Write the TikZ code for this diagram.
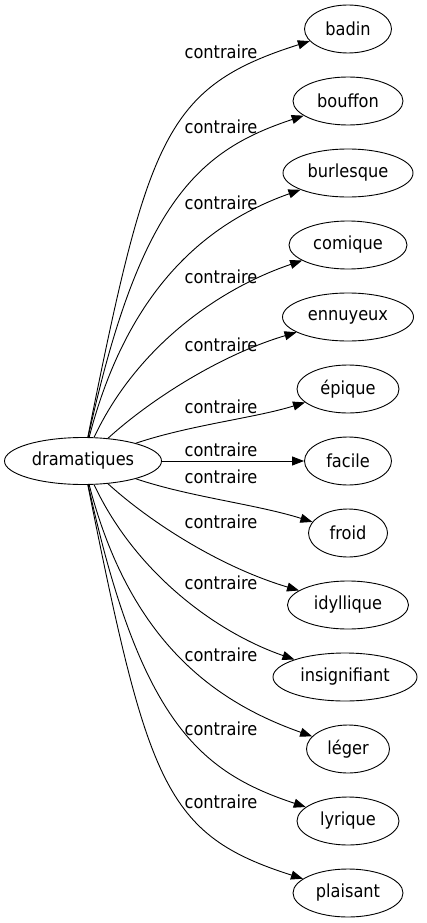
\documentclass[tikz,border=0pt]{standalone}
\usepackage{fontspec}
\setmainfont{DejaVu Sans Condensed}
\usetikzlibrary{shapes.geometric,arrows.meta}
\tikzset{
  mot/.style={draw, ellipse, line width=0.9pt, minimum height=48pt, inner sep=0pt,
    font=\fontsize{18}{21}\selectfont},
  rel/.style={anchor=base, inner sep=0pt, font=\fontsize{18}{21}\selectfont},
}
\begin{document}
\begin{tikzpicture}[x=1pt, y=-1pt, >={Triangle[length=12pt,width=9pt]}, line width=0.9pt]
    \useasboundingbox (0,0) rectangle (427,923);
    % Mot source
    \node[mot, minimum width=157pt, minimum height=47pt] (dram) at (83,461) {dramatiques};
    % Mots contraires
    \node[mot, minimum width=87pt]  (badin)   at (348,29)  {badin};
    \node[mot, minimum width=110pt] (bouffon) at (348,101) {bouffon};
    \node[mot, minimum width=130pt] (burl)    at (348,173) {burlesque};
    \node[mot, minimum width=118pt] (comi)    at (348,245) {comique};
    \node[mot, minimum width=131pt] (ennu)    at (348,317) {ennuyeux};
    \node[mot, minimum width=102pt] (epiq)    at (348,389) {épique};
    \node[mot, minimum width=87pt]  (faci)    at (348,461) {facile};
    \node[mot, minimum width=79pt]  (froi)    at (348,533) {froid};
    \node[mot, minimum width=121pt] (idyl)    at (348,605) {idyllique};
    \node[mot, minimum width=144pt] (insi)    at (345,677) {insignifiant};
    \node[mot, minimum width=83pt]  (lege)    at (348,749) {léger};
    \node[mot, minimum width=102pt] (lyri)    at (348,821) {lyrique};
    \node[mot, minimum width=110pt] (plai)    at (348,893) {plaisant};
    % Etiquettes
    \node[rel] (r1)  at (221,59)  {contraire};
    \node[rel] (r2)  at (221,134) {contraire};
    \node[rel] (r3)  at (221,209) {contraire};
    \node[rel] (r4)  at (221,283) {contraire};
    \node[rel] (r5)  at (221,351) {contraire};
    \node[rel] (r6)  at (221,413) {contraire};
    \node[rel] (r7)  at (221,456) {contraire};
    \node[rel] (r8)  at (221,483) {contraire};
    \node[rel] (r9)  at (221,528) {contraire};
    \node[rel] (r10) at (221,589) {contraire};
    \node[rel] (r11) at (221,661) {contraire};
    \node[rel] (r12) at (221,735) {contraire};
    \node[rel] (r13) at (221,808) {contraire};
    % Arcs
    \draw[->] (dram) .. controls (148,137) and (165,87) .. (badin);
    \draw[->] (dram) .. controls (140,200) and (200,150) .. (bouffon);
    \draw[->] (dram) .. controls (130,280) and (215,220) .. (burl);
    \draw[->] (dram) .. controls (135,350) and (215,290) .. (comi);
    \draw[->] (dram) .. controls (150,400) and (220,355) .. (ennu);
    \draw[->] (dram) .. controls (190,425) and (255,418) .. (epiq);
    \draw[->] (dram) -- (faci);
    \draw[->] (dram) .. controls (190,497) and (255,504) .. (froi);
    \draw[->] (dram) .. controls (150,522) and (220,567) .. (idyl);
    \draw[->] (dram) .. controls (135,572) and (215,632) .. (insi);
    \draw[->] (dram) .. controls (130,642) and (215,702) .. (lege);
    \draw[->] (dram) .. controls (140,722) and (200,772) .. (lyri);
    \draw[->] (dram) .. controls (148,785) and (165,835) .. (plai);
\end{tikzpicture}
\end{document}
